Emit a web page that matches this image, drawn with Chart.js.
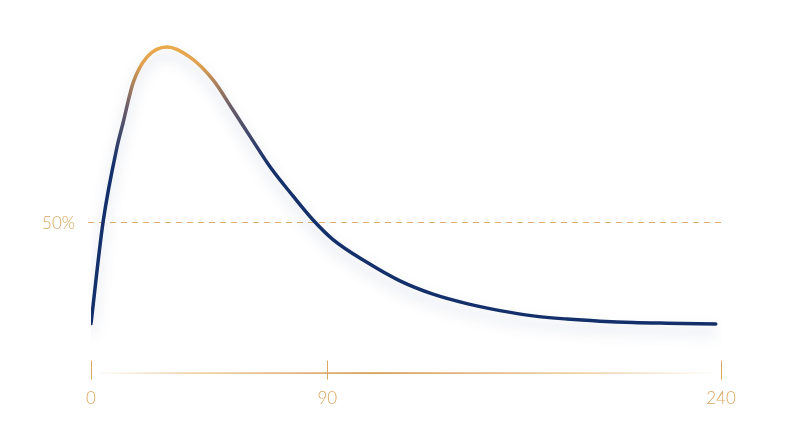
<!DOCTYPE html>
<html>
<head>
<meta charset="utf-8">
<script src="https://cdn.jsdelivr.net/npm/chart.js@4"></script>
<style>
  html, body { margin: 0; padding: 0; background: #fff; }
  #wrap { width: 800px; height: 447px; }
</style>
</head>
<body>
<div id="wrap"><canvas id="canvas"></canvas></div>
<script>
// curve (x in time units, y in % of peak)
const xs = [0, 4.6, 9.9, 12.2, 16, 21.3, 29, 37.7, 46.5, 54.1, 61.7, 68.2, 77, 84.6, 92.2, 105.1, 117.7, 130.3, 143.2, 155.8, 168.4, 181.3, 193.9, 206.5, 219.4, 238];
const ys = [21, 50, 71.4, 78.3, 89.7, 97.1, 100, 97.1, 90.6, 82, 73.2, 65.8, 57.4, 50.6, 45, 38.5, 33.2, 29.4, 26.7, 24.7, 23.2, 22.3, 21.7, 21.3, 21.1, 20.9];
const xTicks = [0, 90, 240];
const refLine = 50;
const refLabel = '50%';

const gold = '#d9a660';
const navy = '#14306b';

const points = xs.map((x, i) => ({ x: x, y: ys[i] }));

// shadow under the curve
const glow = {
  id: 'glow',
  beforeDatasetDraw(chart) {
    const ctx = chart.ctx;
    ctx.save();
    ctx.shadowColor = 'rgba(30,50,110,0.22)';
    ctx.shadowBlur = 14;
    ctx.shadowOffsetY = 8;
  },
  afterDatasetDraw(chart) {
    chart.ctx.restore();
  }
};

// dashed 50% line with its label
const refDeco = {
  id: 'refDeco',
  beforeDatasetsDraw(chart) {
    const ctx = chart.ctx;
    const sy = chart.scales.y;
    const a = chart.chartArea;
    const py = Math.round(sy.getPixelForValue(refLine)) + 0.5;
    ctx.save();
    ctx.strokeStyle = '#e0ae6a';
    ctx.lineWidth = 1;
    ctx.setLineDash([6, 5]);
    ctx.beginPath();
    ctx.moveTo(a.left - 3, py);
    ctx.lineTo(a.right + 1, py);
    ctx.stroke();
    ctx.setLineDash([]);
    ctx.fillStyle = gold;
    ctx.font = '300 17px Lato';
    ctx.textAlign = 'right';
    ctx.textBaseline = 'middle';
    ctx.fillText(refLabel, a.left - 16, py + 1);
    ctx.restore();
  }
};

// x axis line + tick marks
const xAxisDeco = {
  id: 'xAxisDeco',
  afterDraw(chart) {
    const ctx = chart.ctx;
    const sx = chart.scales.x;
    const y0 = chart.chartArea.bottom;
    ctx.save();
    const g = ctx.createLinearGradient(sx.left, 0, sx.right, 0);
    g.addColorStop(0, 'rgba(224,172,104,0)');
    g.addColorStop(0.15, 'rgba(224,172,104,0.5)');
    g.addColorStop(0.45, 'rgba(212,158,82,1)');
    g.addColorStop(0.8, 'rgba(224,172,104,0.5)');
    g.addColorStop(1, 'rgba(224,172,104,0)');
    ctx.strokeStyle = g;
    ctx.lineWidth = 1.6;
    ctx.beginPath();
    ctx.moveTo(sx.left + 8, y0 + 0.5);
    ctx.lineTo(sx.right - 8, y0 + 0.5);
    ctx.stroke();
    ctx.strokeStyle = gold;
    ctx.lineWidth = 1;
    xTicks.forEach(v => {
      const px = Math.round(sx.getPixelForValue(v)) + 0.5;
      ctx.beginPath();
      ctx.moveTo(px, y0 - 12);
      ctx.lineTo(px, y0 + 7);
      ctx.stroke();
    });
    ctx.restore();
  }
};

const canvas = document.getElementById('canvas');
const chart = new Chart(canvas, {
  type: 'line',
  data: {
    datasets: [{
      data: points,
      borderWidth: 3.5,
      borderColor: (c) => {
        const area = c.chart.chartArea;
        if (!area) return navy;
        const sy = c.chart.scales.y;
        const g = c.chart.ctx.createLinearGradient(0, sy.getPixelForValue(100), 0, sy.getPixelForValue(66));
        g.addColorStop(0, '#eaa94b');
        g.addColorStop(0.15, '#e0a050');
        g.addColorStop(0.5, '#6b5e6a');
        g.addColorStop(1, navy);
        return g;
      },
      pointRadius: 0,
      fill: false,
      cubicInterpolationMode: 'monotone',
      borderCapStyle: 'round'
    }]
  },
  options: {
    responsive: true,
    maintainAspectRatio: false,
    animation: false,
    layout: { padding: { left: 91, right: 79, top: 19, bottom: 22 } },
    plugins: { legend: { display: false }, tooltip: { enabled: false } },
    scales: {
      x: {
        type: 'linear',
        min: 0,
        max: 240,
        afterBuildTicks: (s) => { s.ticks = xTicks.map(v => ({ value: v })); },
        grid: { display: false, drawTicks: false },
        border: { display: false },
        ticks: {
          padding: 16,
          color: gold,
          font: { family: 'Lato', size: 17, weight: '300' },
          maxRotation: 0
        }
      },
      y: {
        display: false,
        min: 7,
        max: 108
      }
    }
  },
  plugins: [glow, refDeco, xAxisDeco]
});
</script>
</body>
</html>
